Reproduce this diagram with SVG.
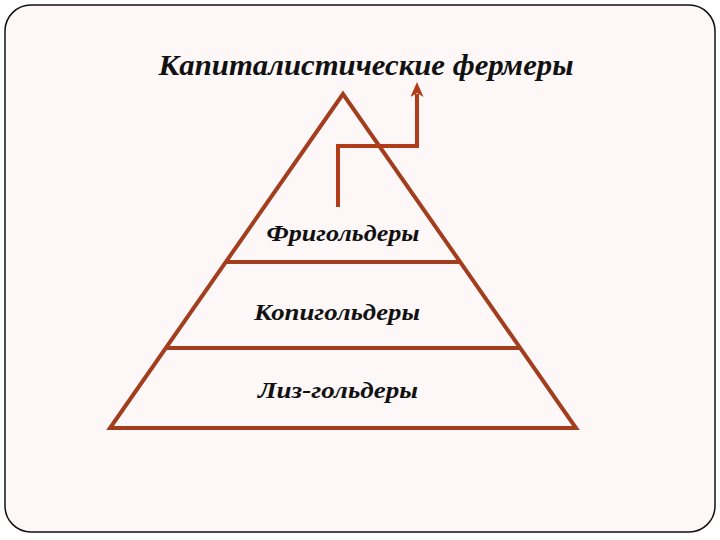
<svg xmlns="http://www.w3.org/2000/svg" width="720" height="540" viewBox="0 0 720 540">
<style>
.frame{fill:#fdf7f7;stroke:#111;stroke-width:1.5}
.pyr{fill:none;stroke:#a23e1e;stroke-width:4;stroke-linejoin:miter}
.conn{fill:none;stroke:#b03c1a;stroke-width:4}
.t{font-family:"Liberation Serif","DejaVu Serif",serif;font-style:italic;font-weight:bold;fill:#111;text-anchor:middle}
</style>
<defs>
<marker id="ah" viewBox="0 0 15 13" refX="3" refY="6.5" markerWidth="3.75" markerHeight="3.25" orient="auto" markerUnits="strokeWidth">
<path d="M0,0 L15,6.5 L0,13 L4,6.5 z" fill="#b03c1a"/>
</marker>
</defs>
<rect x="0" y="0" width="720" height="540" fill="#ffffff"/>
<rect class="frame" x="5" y="5" width="710" height="527" rx="26" ry="26"/>
<g id="title"><text class="t" x="366" y="75" font-size="30" textLength="415" lengthAdjust="spacingAndGlyphs">Капиталистические фермеры</text></g>
<g id="pyramid">
<polygon class="pyr" points="343,94 110,428 576,428"/>
<line class="pyr" x1="226" y1="262" x2="460" y2="262"/>
<line class="pyr" x1="166" y1="348" x2="519" y2="348"/>
</g>
<g id="freeholders"><text class="t" x="343" y="241" font-size="24" textLength="153" lengthAdjust="spacingAndGlyphs">Фригольдеры</text></g>
<g id="copyholders"><text class="t" x="337" y="320" font-size="24" textLength="166" lengthAdjust="spacingAndGlyphs">Копигольдеры</text></g>
<g id="leaseholders"><text class="t" x="338" y="398" font-size="24" textLength="160" lengthAdjust="spacingAndGlyphs">Лиз-гольдеры</text></g>
<g id="connectors">
<polyline class="conn" points="338,207 338,146 417,146 417,94" marker-end="url(#ah)"/>
</g>
</svg>
